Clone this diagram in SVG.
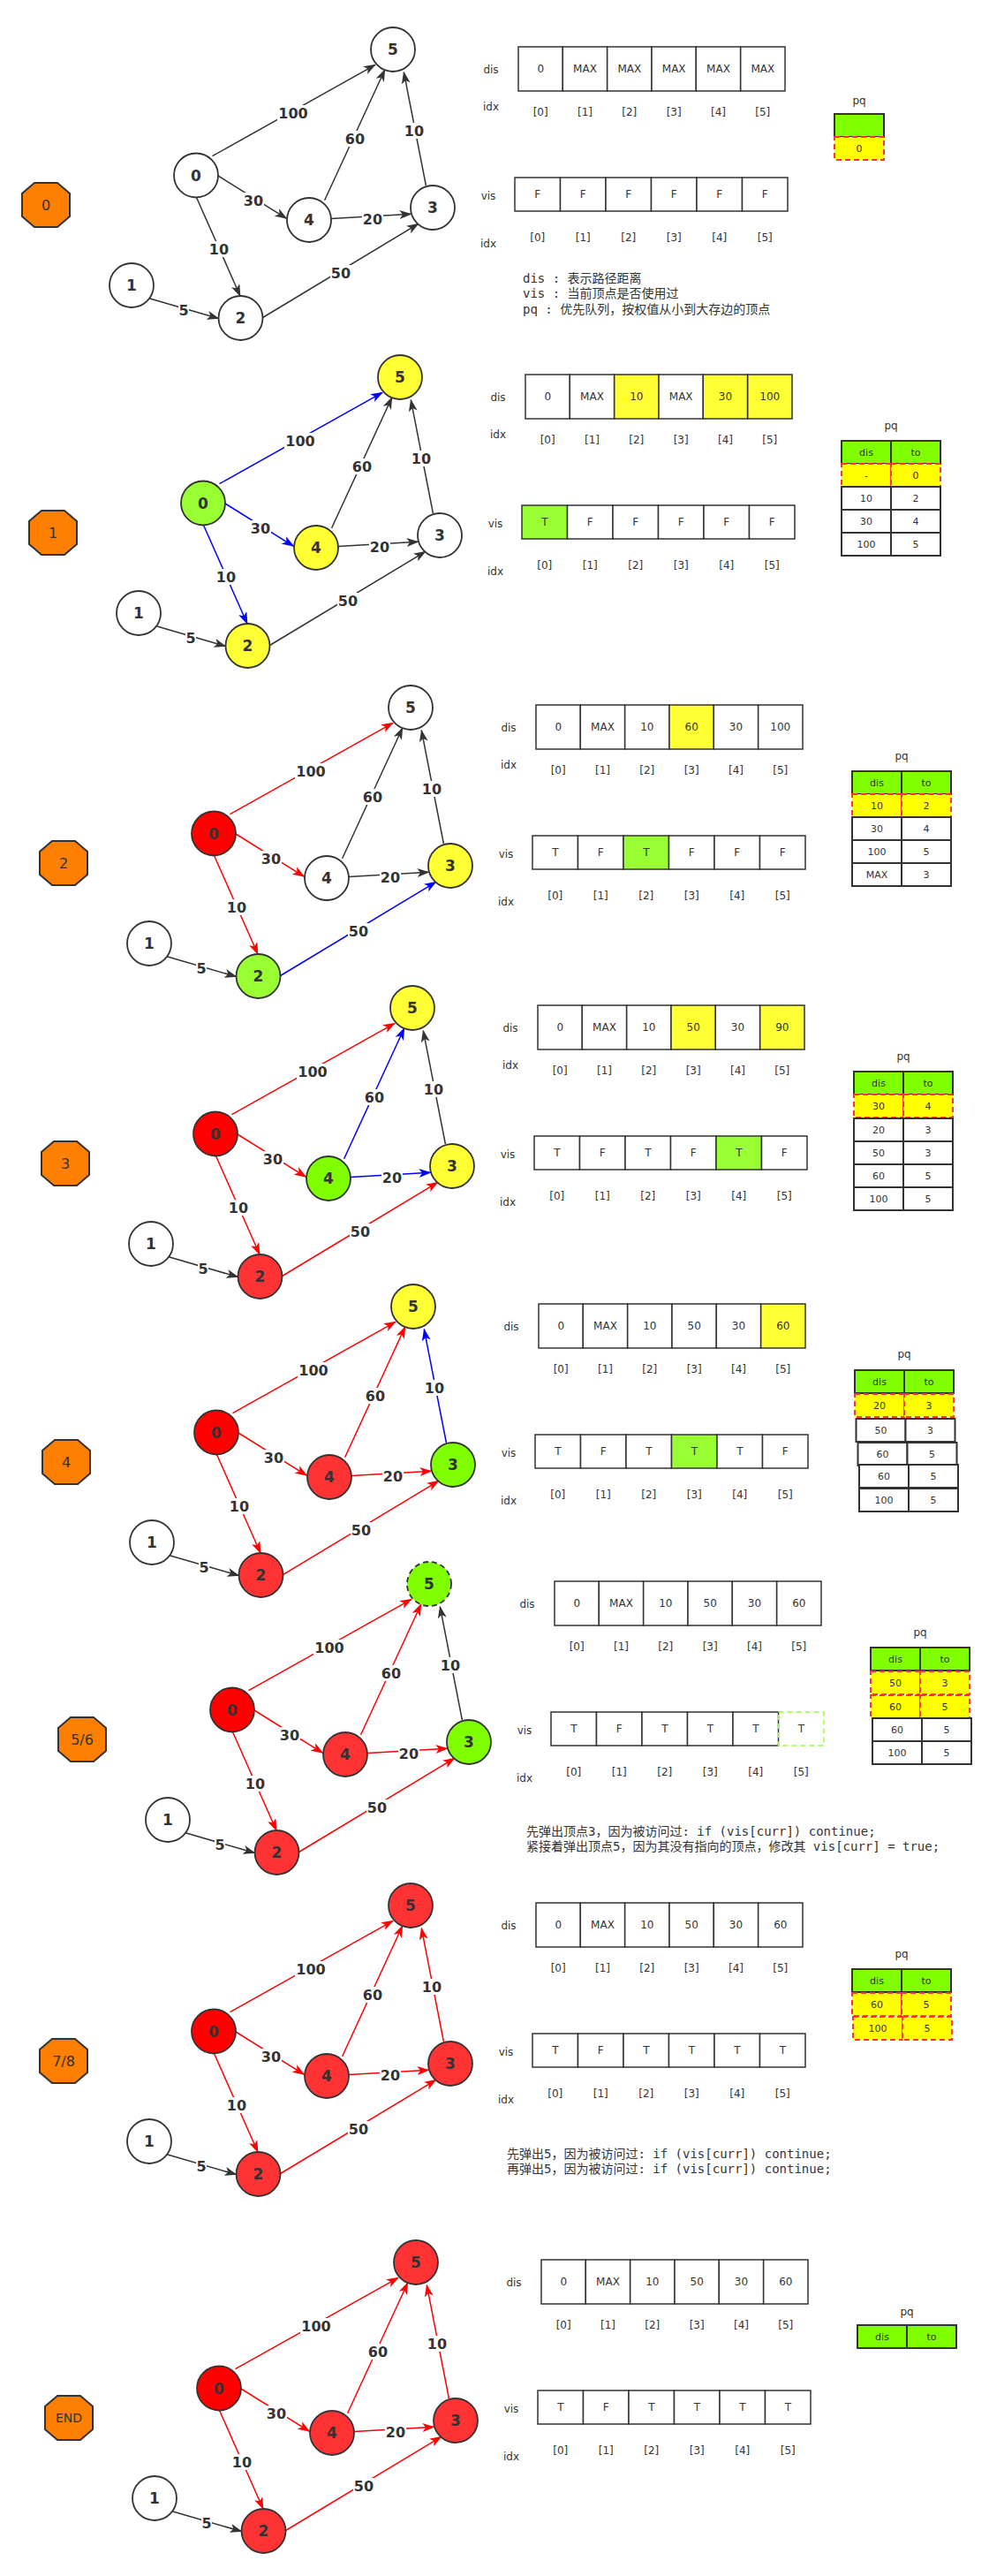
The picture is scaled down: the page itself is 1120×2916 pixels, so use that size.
<svg xmlns="http://www.w3.org/2000/svg" width="1120" height="2916" viewBox="0 0 1120 2916">
<defs>
<marker id="ak" viewBox="0 0 14 10" refX="13" refY="5" markerWidth="14" markerHeight="10" markerUnits="userSpaceOnUse" orient="auto"><path d="M0,0 L14,5 L0,10 L3.5,5 Z" fill="#333"/></marker>
<marker id="ar" viewBox="0 0 14 10" refX="13" refY="5" markerWidth="14" markerHeight="10" markerUnits="userSpaceOnUse" orient="auto"><path d="M0,0 L14,5 L0,10 L3.5,5 Z" fill="#FF0000"/></marker>
<marker id="ab" viewBox="0 0 14 10" refX="13" refY="5" markerWidth="14" markerHeight="10" markerUnits="userSpaceOnUse" orient="auto"><path d="M0,0 L14,5 L0,10 L3.5,5 Z" fill="#0000FF"/></marker>
<style>
.oct{fill:#FF8000;stroke:#333;stroke-width:2}
.ot{font-family:"DejaVu Sans",sans-serif;font-size:16px;fill:#333;text-anchor:middle;dominant-baseline:central}
.n{stroke:#333;stroke-width:1.8}
.fw{fill:#fff}.fy{fill:#FFFF33}.fg{fill:#99FF33}.fG{fill:#80FF00}.fR{fill:#FF0000}.fr{fill:#FF3333}
.dash{stroke-dasharray:6 4}
.nt{font-family:"DejaVu Sans",sans-serif;font-weight:bold;font-size:17px;fill:#333;text-anchor:middle;dominant-baseline:central}
.ek,.er,.eb{fill:none;stroke-width:1.5}
.ek{stroke:#333;marker-end:url(#ak)}
.er{stroke:#FF0000;marker-end:url(#ar)}
.eb{stroke:#0000FF;marker-end:url(#ab)}
.lb{fill:#fff}
.el{font-family:"DejaVu Sans",sans-serif;font-weight:bold;font-size:16px;fill:#333;text-anchor:middle;dominant-baseline:central}
.c{fill:#fff;stroke:#333;stroke-width:1.5}
.cy{fill:#FFFF33;stroke:#333;stroke-width:1.5}
.cg{fill:#99FF33;stroke:#333;stroke-width:1.5}
.cd{fill:none;stroke:#99FF33;stroke-width:1.5;stroke-dasharray:6 4}
.ct{font-family:"DejaVu Sans",sans-serif;font-size:12px;fill:#333;text-anchor:middle;dominant-baseline:central}
.lab{font-family:"DejaVu Sans",sans-serif;font-size:12px;fill:#333;text-anchor:middle;dominant-baseline:central}
.ph{fill:#80FF00;stroke:#333;stroke-width:2}
.pw{fill:#fff;stroke:#333;stroke-width:2}
.py{fill:#FFFF00;stroke:#FF3333;stroke-width:2;stroke-dasharray:6 4}
.pt{font-family:"DejaVu Sans",sans-serif;font-size:11px;fill:#333;text-anchor:middle;dominant-baseline:central}
.note{font-family:"DejaVu Sans Mono","Noto Sans CJK SC",monospace;font-size:14px;fill:#333;white-space:pre}
</style>
</defs>
<rect width="1120" height="2916" fill="#fff"/>

<!-- ===== STAGE 0 ===== -->
<g id="s0" transform="translate(0,0)">
<g id="s0-oct"><polygon class="oct" points="39,207 65,207 79,219 79,245 65,257 39,257 25,245 25,219"/><text class="ot" x="52" y="232">0</text></g>
<g id="s0-edges">
<path class="ek" d="M240.5,176.7L425,73.3"/>
<path class="ek" d="M367.6,226.7L435.8,79"/>
<path class="ek" d="M482.4,210L457.3,81.7"/>
<path class="ek" d="M247,199L324.5,247.3"/>
<path class="ek" d="M375,247.5L465.5,242.3"/>
<path class="ek" d="M222.5,223.5L272,335"/>
<path class="ek" d="M296.7,360L473.8,253.3"/>
<path class="ek" d="M167.3,337.3L247.5,360.5"/>
<rect class="lb" x="314" y="119" width="36" height="18"/><text class="el" x="332" y="128">100</text>
<rect class="lb" x="390" y="148" width="24" height="18"/><text class="el" x="402" y="157">60</text>
<rect class="lb" x="457" y="139" width="24" height="18"/><text class="el" x="469" y="148">10</text>
<rect class="lb" x="275" y="218" width="24" height="18"/><text class="el" x="287" y="227">30</text>
<rect class="lb" x="410" y="239" width="24" height="18"/><text class="el" x="422" y="248">20</text>
<rect class="lb" x="236" y="273" width="24" height="18"/><text class="el" x="248" y="282">10</text>
<rect class="lb" x="374" y="300" width="24" height="18"/><text class="el" x="386" y="309">50</text>
<rect class="lb" x="202" y="342" width="12" height="18"/><text class="el" x="208" y="351">5</text>
</g>
<g id="s0-n0"><circle class="n fw" cx="222" cy="198.5" r="25"/><text class="nt" x="222" y="198.5">0</text></g>
<g id="s0-n1"><circle class="n fw" cx="149" cy="323" r="25"/><text class="nt" x="149" y="323">1</text></g>
<g id="s0-n2"><circle class="n fw" cx="272.5" cy="360" r="25"/><text class="nt" x="272.5" y="360">2</text></g>
<g id="s0-n3"><circle class="n fw" cx="490" cy="235" r="25"/><text class="nt" x="490" y="235">3</text></g>
<g id="s0-n4"><circle class="n fw" cx="350" cy="249" r="25"/><text class="nt" x="350" y="249">4</text></g>
<g id="s0-n5"><circle class="n fw" cx="445" cy="56" r="25"/><text class="nt" x="445" y="56">5</text></g>
<g id="s0-dis">
<text class="lab" x="556" y="79">dis</text><text class="lab" x="556" y="121">idx</text>
<rect class="c" x="587" y="53" width="50.3" height="50"/><rect class="c" x="637.3" y="53" width="50.3" height="50"/><rect class="c" x="687.7" y="53" width="50.3" height="50"/><rect class="c" x="738" y="53" width="50.3" height="50"/><rect class="c" x="788.3" y="53" width="50.3" height="50"/><rect class="c" x="838.7" y="53" width="50.3" height="50"/>
<text class="ct" x="612.2" y="78">0</text><text class="ct" x="662.5" y="78">MAX</text><text class="ct" x="712.8" y="78">MAX</text><text class="ct" x="763.2" y="78">MAX</text><text class="ct" x="813.5" y="78">MAX</text><text class="ct" x="863.8" y="78">MAX</text>
<text class="ct" x="612.2" y="127">[0]</text><text class="ct" x="662.5" y="127">[1]</text><text class="ct" x="712.8" y="127">[2]</text><text class="ct" x="763.2" y="127">[3]</text><text class="ct" x="813.5" y="127">[4]</text><text class="ct" x="863.8" y="127">[5]</text>
</g>
<g id="s0-vis">
<text class="lab" x="553" y="222">vis</text><text class="lab" x="553" y="276">idx</text>
<rect class="c" x="583" y="201" width="51.5" height="38"/><rect class="c" x="634.5" y="201" width="51.5" height="38"/><rect class="c" x="686" y="201" width="51.5" height="38"/><rect class="c" x="737.5" y="201" width="51.5" height="38"/><rect class="c" x="789" y="201" width="51.5" height="38"/><rect class="c" x="840.5" y="201" width="51.5" height="38"/>
<text class="ct" x="608.8" y="220">F</text><text class="ct" x="660.3" y="220">F</text><text class="ct" x="711.8" y="220">F</text><text class="ct" x="763.3" y="220">F</text><text class="ct" x="814.8" y="220">F</text><text class="ct" x="866.3" y="220">F</text>
<text class="ct" x="608.8" y="269">[0]</text><text class="ct" x="660.3" y="269">[1]</text><text class="ct" x="711.8" y="269">[2]</text><text class="ct" x="763.3" y="269">[3]</text><text class="ct" x="814.8" y="269">[4]</text><text class="ct" x="866.3" y="269">[5]</text>
</g>
<g id="s0-pq">
<text class="lab" x="973" y="114">pq</text>
<rect class="ph" x="945" y="129" width="56" height="26"/>
<rect class="py" x="945" y="155" width="56" height="26"/><text class="pt" x="973" y="168">0</text>
</g>
<g id="s0-legend" class="note">
<text x="592" y="320">dis : 表示路径距离</text>
<text x="592" y="337">vis : 当前顶点是否使用过</text>
<text x="592" y="355">pq  : 优先队列，按权值从小到大存边的顶点</text>
</g>
</g>

<!-- ===== STAGE 1 ===== -->
<g id="s1" transform="translate(8,371)">
<g id="s1-oct"><polygon class="oct" points="39,207 65,207 79,219 79,245 65,257 39,257 25,245 25,219"/><text class="ot" x="52" y="232">1</text></g>
<g id="s1-edges">
<path class="eb" d="M240.5,176.7L425,73.3"/>
<path class="ek" d="M367.6,226.7L435.8,79"/>
<path class="ek" d="M482.4,210L457.3,81.7"/>
<path class="eb" d="M247,199L324.5,247.3"/>
<path class="ek" d="M375,247.5L465.5,242.3"/>
<path class="eb" d="M222.5,223.5L272,335"/>
<path class="ek" d="M296.7,360L473.8,253.3"/>
<path class="ek" d="M167.3,337.3L247.5,360.5"/>
<rect class="lb" x="314" y="119" width="36" height="18"/><text class="el" x="332" y="128">100</text>
<rect class="lb" x="390" y="148" width="24" height="18"/><text class="el" x="402" y="157">60</text>
<rect class="lb" x="457" y="139" width="24" height="18"/><text class="el" x="469" y="148">10</text>
<rect class="lb" x="275" y="218" width="24" height="18"/><text class="el" x="287" y="227">30</text>
<rect class="lb" x="410" y="239" width="24" height="18"/><text class="el" x="422" y="248">20</text>
<rect class="lb" x="236" y="273" width="24" height="18"/><text class="el" x="248" y="282">10</text>
<rect class="lb" x="374" y="300" width="24" height="18"/><text class="el" x="386" y="309">50</text>
<rect class="lb" x="202" y="342" width="12" height="18"/><text class="el" x="208" y="351">5</text>
</g>
<g id="s1-n0"><circle class="n fg" cx="222" cy="198.5" r="25"/><text class="nt" x="222" y="198.5">0</text></g>
<g id="s1-n1"><circle class="n fw" cx="149" cy="323" r="25"/><text class="nt" x="149" y="323">1</text></g>
<g id="s1-n2"><circle class="n fy" cx="272.5" cy="360" r="25"/><text class="nt" x="272.5" y="360">2</text></g>
<g id="s1-n3"><circle class="n fw" cx="490" cy="235" r="25"/><text class="nt" x="490" y="235">3</text></g>
<g id="s1-n4"><circle class="n fy" cx="350" cy="249" r="25"/><text class="nt" x="350" y="249">4</text></g>
<g id="s1-n5"><circle class="n fy" cx="445" cy="56" r="25"/><text class="nt" x="445" y="56">5</text></g>
<g id="s1-dis">
<text class="lab" x="556" y="79">dis</text><text class="lab" x="556" y="121">idx</text>
<rect class="c" x="587" y="53" width="50.3" height="50"/><rect class="c" x="637.3" y="53" width="50.3" height="50"/><rect class="cy" x="687.7" y="53" width="50.3" height="50"/><rect class="c" x="738" y="53" width="50.3" height="50"/><rect class="cy" x="788.3" y="53" width="50.3" height="50"/><rect class="cy" x="838.7" y="53" width="50.3" height="50"/>
<text class="ct" x="612.2" y="78">0</text><text class="ct" x="662.5" y="78">MAX</text><text class="ct" x="712.8" y="78">10</text><text class="ct" x="763.2" y="78">MAX</text><text class="ct" x="813.5" y="78">30</text><text class="ct" x="863.8" y="78">100</text>
<text class="ct" x="612.2" y="127">[0]</text><text class="ct" x="662.5" y="127">[1]</text><text class="ct" x="712.8" y="127">[2]</text><text class="ct" x="763.2" y="127">[3]</text><text class="ct" x="813.5" y="127">[4]</text><text class="ct" x="863.8" y="127">[5]</text>
</g>
<g id="s1-vis">
<text class="lab" x="553" y="222">vis</text><text class="lab" x="553" y="276">idx</text>
<rect class="cg" x="583" y="201" width="51.5" height="38"/><rect class="c" x="634.5" y="201" width="51.5" height="38"/><rect class="c" x="686" y="201" width="51.5" height="38"/><rect class="c" x="737.5" y="201" width="51.5" height="38"/><rect class="c" x="789" y="201" width="51.5" height="38"/><rect class="c" x="840.5" y="201" width="51.5" height="38"/>
<text class="ct" x="608.8" y="220">T</text><text class="ct" x="660.3" y="220">F</text><text class="ct" x="711.8" y="220">F</text><text class="ct" x="763.3" y="220">F</text><text class="ct" x="814.8" y="220">F</text><text class="ct" x="866.3" y="220">F</text>
<text class="ct" x="608.8" y="269">[0]</text><text class="ct" x="660.3" y="269">[1]</text><text class="ct" x="711.8" y="269">[2]</text><text class="ct" x="763.3" y="269">[3]</text><text class="ct" x="814.8" y="269">[4]</text><text class="ct" x="866.3" y="269">[5]</text>
</g>
<g id="s1-pq">
<text class="lab" x="1001" y="111">pq</text>
<rect class="ph" x="945" y="128" width="56" height="26"/><rect class="ph" x="1001" y="128" width="56" height="26"/><text class="pt" x="973" y="141">dis</text><text class="pt" x="1029" y="141">to</text>
<rect class="py" x="945" y="154" width="56" height="26"/><rect class="py" x="1001" y="154" width="56" height="26"/><text class="pt" x="973" y="167">-</text><text class="pt" x="1029" y="167">0</text>
<rect class="pw" x="945" y="180" width="56" height="26"/><rect class="pw" x="1001" y="180" width="56" height="26"/><text class="pt" x="973" y="193">10</text><text class="pt" x="1029" y="193">2</text>
<rect class="pw" x="945" y="206" width="56" height="26"/><rect class="pw" x="1001" y="206" width="56" height="26"/><text class="pt" x="973" y="219">30</text><text class="pt" x="1029" y="219">4</text>
<rect class="pw" x="945" y="232" width="56" height="26"/><rect class="pw" x="1001" y="232" width="56" height="26"/><text class="pt" x="973" y="245">100</text><text class="pt" x="1029" y="245">5</text>
</g>
</g>

<!-- ===== STAGE 2 ===== -->
<g id="s2" transform="translate(20,745)">
<g id="s2-oct"><polygon class="oct" points="39,207 65,207 79,219 79,245 65,257 39,257 25,245 25,219"/><text class="ot" x="52" y="232">2</text></g>
<g id="s2-edges">
<path class="er" d="M240.5,176.7L425,73.3"/>
<path class="ek" d="M367.6,226.7L435.8,79"/>
<path class="ek" d="M482.4,210L457.3,81.7"/>
<path class="er" d="M247,199L324.5,247.3"/>
<path class="ek" d="M375,247.5L465.5,242.3"/>
<path class="er" d="M222.5,223.5L272,335"/>
<path class="eb" d="M296.7,360L473.8,253.3"/>
<path class="ek" d="M167.3,337.3L247.5,360.5"/>
<rect class="lb" x="314" y="119" width="36" height="18"/><text class="el" x="332" y="128">100</text>
<rect class="lb" x="390" y="148" width="24" height="18"/><text class="el" x="402" y="157">60</text>
<rect class="lb" x="457" y="139" width="24" height="18"/><text class="el" x="469" y="148">10</text>
<rect class="lb" x="275" y="218" width="24" height="18"/><text class="el" x="287" y="227">30</text>
<rect class="lb" x="410" y="239" width="24" height="18"/><text class="el" x="422" y="248">20</text>
<rect class="lb" x="236" y="273" width="24" height="18"/><text class="el" x="248" y="282">10</text>
<rect class="lb" x="374" y="300" width="24" height="18"/><text class="el" x="386" y="309">50</text>
<rect class="lb" x="202" y="342" width="12" height="18"/><text class="el" x="208" y="351">5</text>
</g>
<g id="s2-n0"><circle class="n fR" cx="222" cy="198.5" r="25"/><text class="nt" x="222" y="198.5">0</text></g>
<g id="s2-n1"><circle class="n fw" cx="149" cy="323" r="25"/><text class="nt" x="149" y="323">1</text></g>
<g id="s2-n2"><circle class="n fg" cx="272.5" cy="360" r="25"/><text class="nt" x="272.5" y="360">2</text></g>
<g id="s2-n3"><circle class="n fy" cx="490" cy="235" r="25"/><text class="nt" x="490" y="235">3</text></g>
<g id="s2-n4"><circle class="n fw" cx="350" cy="249" r="25"/><text class="nt" x="350" y="249">4</text></g>
<g id="s2-n5"><circle class="n fw" cx="445" cy="56" r="25"/><text class="nt" x="445" y="56">5</text></g>
<g id="s2-dis">
<text class="lab" x="556" y="79">dis</text><text class="lab" x="556" y="121">idx</text>
<rect class="c" x="587" y="53" width="50.3" height="50"/><rect class="c" x="637.3" y="53" width="50.3" height="50"/><rect class="c" x="687.7" y="53" width="50.3" height="50"/><rect class="cy" x="738" y="53" width="50.3" height="50"/><rect class="c" x="788.3" y="53" width="50.3" height="50"/><rect class="c" x="838.7" y="53" width="50.3" height="50"/>
<text class="ct" x="612.2" y="78">0</text><text class="ct" x="662.5" y="78">MAX</text><text class="ct" x="712.8" y="78">10</text><text class="ct" x="763.2" y="78">60</text><text class="ct" x="813.5" y="78">30</text><text class="ct" x="863.8" y="78">100</text>
<text class="ct" x="612.2" y="127">[0]</text><text class="ct" x="662.5" y="127">[1]</text><text class="ct" x="712.8" y="127">[2]</text><text class="ct" x="763.2" y="127">[3]</text><text class="ct" x="813.5" y="127">[4]</text><text class="ct" x="863.8" y="127">[5]</text>
</g>
<g id="s2-vis">
<text class="lab" x="553" y="222">vis</text><text class="lab" x="553" y="276">idx</text>
<rect class="c" x="583" y="201" width="51.5" height="38"/><rect class="c" x="634.5" y="201" width="51.5" height="38"/><rect class="cg" x="686" y="201" width="51.5" height="38"/><rect class="c" x="737.5" y="201" width="51.5" height="38"/><rect class="c" x="789" y="201" width="51.5" height="38"/><rect class="c" x="840.5" y="201" width="51.5" height="38"/>
<text class="ct" x="608.8" y="220">T</text><text class="ct" x="660.3" y="220">F</text><text class="ct" x="711.8" y="220">T</text><text class="ct" x="763.3" y="220">F</text><text class="ct" x="814.8" y="220">F</text><text class="ct" x="866.3" y="220">F</text>
<text class="ct" x="608.8" y="269">[0]</text><text class="ct" x="660.3" y="269">[1]</text><text class="ct" x="711.8" y="269">[2]</text><text class="ct" x="763.3" y="269">[3]</text><text class="ct" x="814.8" y="269">[4]</text><text class="ct" x="866.3" y="269">[5]</text>
</g>
<g id="s2-pq">
<text class="lab" x="1001" y="111">pq</text>
<rect class="ph" x="945" y="128" width="56" height="26"/><rect class="ph" x="1001" y="128" width="56" height="26"/><text class="pt" x="973" y="141">dis</text><text class="pt" x="1029" y="141">to</text>
<rect class="py" x="945" y="154" width="56" height="26"/><rect class="py" x="1001" y="154" width="56" height="26"/><text class="pt" x="973" y="167">10</text><text class="pt" x="1029" y="167">2</text>
<rect class="pw" x="945" y="180" width="56" height="26"/><rect class="pw" x="1001" y="180" width="56" height="26"/><text class="pt" x="973" y="193">30</text><text class="pt" x="1029" y="193">4</text>
<rect class="pw" x="945" y="206" width="56" height="26"/><rect class="pw" x="1001" y="206" width="56" height="26"/><text class="pt" x="973" y="219">100</text><text class="pt" x="1029" y="219">5</text>
<rect class="pw" x="945" y="232" width="56" height="26"/><rect class="pw" x="1001" y="232" width="56" height="26"/><text class="pt" x="973" y="245">MAX</text><text class="pt" x="1029" y="245">3</text>
</g>
</g>

<!-- ===== STAGE 3 ===== -->
<g id="s3" transform="translate(22,1085)">
<g id="s3-oct"><polygon class="oct" points="39,207 65,207 79,219 79,245 65,257 39,257 25,245 25,219"/><text class="ot" x="52" y="232">3</text></g>
<g id="s3-edges">
<path class="er" d="M240.5,176.7L425,73.3"/>
<path class="eb" d="M367.6,226.7L435.8,79"/>
<path class="ek" d="M482.4,210L457.3,81.7"/>
<path class="er" d="M247,199L324.5,247.3"/>
<path class="eb" d="M375,247.5L465.5,242.3"/>
<path class="er" d="M222.5,223.5L272,335"/>
<path class="er" d="M296.7,360L473.8,253.3"/>
<path class="ek" d="M167.3,337.3L247.5,360.5"/>
<rect class="lb" x="314" y="119" width="36" height="18"/><text class="el" x="332" y="128">100</text>
<rect class="lb" x="390" y="148" width="24" height="18"/><text class="el" x="402" y="157">60</text>
<rect class="lb" x="457" y="139" width="24" height="18"/><text class="el" x="469" y="148">10</text>
<rect class="lb" x="275" y="218" width="24" height="18"/><text class="el" x="287" y="227">30</text>
<rect class="lb" x="410" y="239" width="24" height="18"/><text class="el" x="422" y="248">20</text>
<rect class="lb" x="236" y="273" width="24" height="18"/><text class="el" x="248" y="282">10</text>
<rect class="lb" x="374" y="300" width="24" height="18"/><text class="el" x="386" y="309">50</text>
<rect class="lb" x="202" y="342" width="12" height="18"/><text class="el" x="208" y="351">5</text>
</g>
<g id="s3-n0"><circle class="n fR" cx="222" cy="198.5" r="25"/><text class="nt" x="222" y="198.5">0</text></g>
<g id="s3-n1"><circle class="n fw" cx="149" cy="323" r="25"/><text class="nt" x="149" y="323">1</text></g>
<g id="s3-n2"><circle class="n fr" cx="272.5" cy="360" r="25"/><text class="nt" x="272.5" y="360">2</text></g>
<g id="s3-n3"><circle class="n fy" cx="490" cy="235" r="25"/><text class="nt" x="490" y="235">3</text></g>
<g id="s3-n4"><circle class="n fG" cx="350" cy="249" r="25"/><text class="nt" x="350" y="249">4</text></g>
<g id="s3-n5"><circle class="n fy" cx="445" cy="56" r="25"/><text class="nt" x="445" y="56">5</text></g>
<g id="s3-dis">
<text class="lab" x="556" y="79">dis</text><text class="lab" x="556" y="121">idx</text>
<rect class="c" x="587" y="53" width="50.3" height="50"/><rect class="c" x="637.3" y="53" width="50.3" height="50"/><rect class="c" x="687.7" y="53" width="50.3" height="50"/><rect class="cy" x="738" y="53" width="50.3" height="50"/><rect class="c" x="788.3" y="53" width="50.3" height="50"/><rect class="cy" x="838.7" y="53" width="50.3" height="50"/>
<text class="ct" x="612.2" y="78">0</text><text class="ct" x="662.5" y="78">MAX</text><text class="ct" x="712.8" y="78">10</text><text class="ct" x="763.2" y="78">50</text><text class="ct" x="813.5" y="78">30</text><text class="ct" x="863.8" y="78">90</text>
<text class="ct" x="612.2" y="127">[0]</text><text class="ct" x="662.5" y="127">[1]</text><text class="ct" x="712.8" y="127">[2]</text><text class="ct" x="763.2" y="127">[3]</text><text class="ct" x="813.5" y="127">[4]</text><text class="ct" x="863.8" y="127">[5]</text>
</g>
<g id="s3-vis">
<text class="lab" x="553" y="222">vis</text><text class="lab" x="553" y="276">idx</text>
<rect class="c" x="583" y="201" width="51.5" height="38"/><rect class="c" x="634.5" y="201" width="51.5" height="38"/><rect class="c" x="686" y="201" width="51.5" height="38"/><rect class="c" x="737.5" y="201" width="51.5" height="38"/><rect class="cg" x="789" y="201" width="51.5" height="38"/><rect class="c" x="840.5" y="201" width="51.5" height="38"/>
<text class="ct" x="608.8" y="220">T</text><text class="ct" x="660.3" y="220">F</text><text class="ct" x="711.8" y="220">T</text><text class="ct" x="763.3" y="220">F</text><text class="ct" x="814.8" y="220">T</text><text class="ct" x="866.3" y="220">F</text>
<text class="ct" x="608.8" y="269">[0]</text><text class="ct" x="660.3" y="269">[1]</text><text class="ct" x="711.8" y="269">[2]</text><text class="ct" x="763.3" y="269">[3]</text><text class="ct" x="814.8" y="269">[4]</text><text class="ct" x="866.3" y="269">[5]</text>
</g>
<g id="s3-pq">
<text class="lab" x="1001" y="111">pq</text>
<rect class="ph" x="945" y="128" width="56" height="26"/><rect class="ph" x="1001" y="128" width="56" height="26"/><text class="pt" x="973" y="141">dis</text><text class="pt" x="1029" y="141">to</text>
<rect class="py" x="945" y="154" width="56" height="26"/><rect class="py" x="1001" y="154" width="56" height="26"/><text class="pt" x="973" y="167">30</text><text class="pt" x="1029" y="167">4</text>
<rect class="pw" x="945" y="181" width="56" height="26"/><rect class="pw" x="1001" y="181" width="56" height="26"/><text class="pt" x="973" y="194">20</text><text class="pt" x="1029" y="194">3</text>
<rect class="pw" x="945" y="207" width="56" height="26"/><rect class="pw" x="1001" y="207" width="56" height="26"/><text class="pt" x="973" y="220">50</text><text class="pt" x="1029" y="220">3</text>
<rect class="pw" x="945" y="233" width="56" height="26"/><rect class="pw" x="1001" y="233" width="56" height="26"/><text class="pt" x="973" y="246">60</text><text class="pt" x="1029" y="246">5</text>
<rect class="pw" x="945" y="259" width="56" height="26"/><rect class="pw" x="1001" y="259" width="56" height="26"/><text class="pt" x="973" y="272">100</text><text class="pt" x="1029" y="272">5</text>
</g>
</g>

<!-- ===== STAGE 4 ===== -->
<g id="s4" transform="translate(23,1423)">
<g id="s4-oct"><polygon class="oct" points="39,207 65,207 79,219 79,245 65,257 39,257 25,245 25,219"/><text class="ot" x="52" y="232">4</text></g>
<g id="s4-edges">
<path class="er" d="M240.5,176.7L425,73.3"/>
<path class="er" d="M367.6,226.7L435.8,79"/>
<path class="eb" d="M482.4,210L457.3,81.7"/>
<path class="er" d="M247,199L324.5,247.3"/>
<path class="er" d="M375,247.5L465.5,242.3"/>
<path class="er" d="M222.5,223.5L272,335"/>
<path class="er" d="M296.7,360L473.8,253.3"/>
<path class="ek" d="M167.3,337.3L247.5,360.5"/>
<rect class="lb" x="314" y="119" width="36" height="18"/><text class="el" x="332" y="128">100</text>
<rect class="lb" x="390" y="148" width="24" height="18"/><text class="el" x="402" y="157">60</text>
<rect class="lb" x="457" y="139" width="24" height="18"/><text class="el" x="469" y="148">10</text>
<rect class="lb" x="275" y="218" width="24" height="18"/><text class="el" x="287" y="227">30</text>
<rect class="lb" x="410" y="239" width="24" height="18"/><text class="el" x="422" y="248">20</text>
<rect class="lb" x="236" y="273" width="24" height="18"/><text class="el" x="248" y="282">10</text>
<rect class="lb" x="374" y="300" width="24" height="18"/><text class="el" x="386" y="309">50</text>
<rect class="lb" x="202" y="342" width="12" height="18"/><text class="el" x="208" y="351">5</text>
</g>
<g id="s4-n0"><circle class="n fR" cx="222" cy="198.5" r="25"/><text class="nt" x="222" y="198.5">0</text></g>
<g id="s4-n1"><circle class="n fw" cx="149" cy="323" r="25"/><text class="nt" x="149" y="323">1</text></g>
<g id="s4-n2"><circle class="n fr" cx="272.5" cy="360" r="25"/><text class="nt" x="272.5" y="360">2</text></g>
<g id="s4-n3"><circle class="n fG" cx="490" cy="235" r="25"/><text class="nt" x="490" y="235">3</text></g>
<g id="s4-n4"><circle class="n fr" cx="350" cy="249" r="25"/><text class="nt" x="350" y="249">4</text></g>
<g id="s4-n5"><circle class="n fy" cx="445" cy="56" r="25"/><text class="nt" x="445" y="56">5</text></g>
<g id="s4-dis">
<text class="lab" x="556" y="79">dis</text>
<rect class="c" x="587" y="53" width="50.3" height="50"/><rect class="c" x="637.3" y="53" width="50.3" height="50"/><rect class="c" x="687.7" y="53" width="50.3" height="50"/><rect class="c" x="738" y="53" width="50.3" height="50"/><rect class="c" x="788.3" y="53" width="50.3" height="50"/><rect class="cy" x="838.7" y="53" width="50.3" height="50"/>
<text class="ct" x="612.2" y="78">0</text><text class="ct" x="662.5" y="78">MAX</text><text class="ct" x="712.8" y="78">10</text><text class="ct" x="763.2" y="78">50</text><text class="ct" x="813.5" y="78">30</text><text class="ct" x="863.8" y="78">60</text>
<text class="ct" x="612.2" y="127">[0]</text><text class="ct" x="662.5" y="127">[1]</text><text class="ct" x="712.8" y="127">[2]</text><text class="ct" x="763.2" y="127">[3]</text><text class="ct" x="813.5" y="127">[4]</text><text class="ct" x="863.8" y="127">[5]</text>
</g>
<g id="s4-vis">
<text class="lab" x="553" y="222">vis</text><text class="lab" x="553" y="276">idx</text>
<rect class="c" x="583" y="201" width="51.5" height="38"/><rect class="c" x="634.5" y="201" width="51.5" height="38"/><rect class="c" x="686" y="201" width="51.5" height="38"/><rect class="cg" x="737.5" y="201" width="51.5" height="38"/><rect class="c" x="789" y="201" width="51.5" height="38"/><rect class="c" x="840.5" y="201" width="51.5" height="38"/>
<text class="ct" x="608.8" y="220">T</text><text class="ct" x="660.3" y="220">F</text><text class="ct" x="711.8" y="220">T</text><text class="ct" x="763.3" y="220">T</text><text class="ct" x="814.8" y="220">T</text><text class="ct" x="866.3" y="220">F</text>
<text class="ct" x="608.8" y="269">[0]</text><text class="ct" x="660.3" y="269">[1]</text><text class="ct" x="711.8" y="269">[2]</text><text class="ct" x="763.3" y="269">[3]</text><text class="ct" x="814.8" y="269">[4]</text><text class="ct" x="866.3" y="269">[5]</text>
</g>
<g id="s4-pq">
<text class="lab" x="1001" y="110">pq</text>
<rect class="ph" x="945" y="128" width="56" height="26"/><rect class="ph" x="1001" y="128" width="56" height="26"/><text class="pt" x="973" y="141">dis</text><text class="pt" x="1029" y="141">to</text>
<rect class="py" x="945" y="155" width="56" height="26"/><rect class="py" x="1001" y="155" width="56" height="26"/><text class="pt" x="973" y="168">20</text><text class="pt" x="1029" y="168">3</text>
<rect class="pw" x="946.5" y="183" width="56" height="26"/><rect class="pw" x="1002.5" y="183" width="56" height="26"/><text class="pt" x="974.5" y="196">50</text><text class="pt" x="1030.5" y="196">3</text>
<rect class="pw" x="948.5" y="210" width="56" height="26"/><rect class="pw" x="1004.5" y="210" width="56" height="26"/><text class="pt" x="976.5" y="223">60</text><text class="pt" x="1032.5" y="223">5</text>
<rect class="pw" x="950" y="235" width="56" height="26"/><rect class="pw" x="1006" y="235" width="56" height="26"/><text class="pt" x="978" y="248">60</text><text class="pt" x="1034" y="248">5</text>
<rect class="pw" x="950" y="262" width="56" height="26"/><rect class="pw" x="1006" y="262" width="56" height="26"/><text class="pt" x="978" y="275">100</text><text class="pt" x="1034" y="275">5</text>
</g>
</g>

<!-- ===== STAGE 5/6 ===== -->
<g id="s5" transform="translate(41,1737)">
<g id="s5-oct"><polygon class="oct" points="39,207 65,207 79,219 79,245 65,257 39,257 25,245 25,219"/><text class="ot" x="52" y="232">5/6</text></g>
<g id="s5-edges">
<path class="er" d="M240.5,176.7L425,73.3"/>
<path class="er" d="M367.6,226.7L435.8,79"/>
<path class="ek" d="M482.4,210L457.3,81.7"/>
<path class="er" d="M247,199L324.5,247.3"/>
<path class="er" d="M375,247.5L465.5,242.3"/>
<path class="er" d="M222.5,223.5L272,335"/>
<path class="er" d="M296.7,360L473.8,253.3"/>
<path class="ek" d="M167.3,337.3L247.5,360.5"/>
<rect class="lb" x="314" y="119" width="36" height="18"/><text class="el" x="332" y="128">100</text>
<rect class="lb" x="390" y="148" width="24" height="18"/><text class="el" x="402" y="157">60</text>
<rect class="lb" x="457" y="139" width="24" height="18"/><text class="el" x="469" y="148">10</text>
<rect class="lb" x="275" y="218" width="24" height="18"/><text class="el" x="287" y="227">30</text>
<rect class="lb" x="410" y="239" width="24" height="18"/><text class="el" x="422" y="248">20</text>
<rect class="lb" x="236" y="273" width="24" height="18"/><text class="el" x="248" y="282">10</text>
<rect class="lb" x="374" y="300" width="24" height="18"/><text class="el" x="386" y="309">50</text>
<rect class="lb" x="202" y="342" width="12" height="18"/><text class="el" x="208" y="351">5</text>
</g>
<g id="s5-n0"><circle class="n fR" cx="222" cy="198.5" r="25"/><text class="nt" x="222" y="198.5">0</text></g>
<g id="s5-n1"><circle class="n fw" cx="149" cy="323" r="25"/><text class="nt" x="149" y="323">1</text></g>
<g id="s5-n2"><circle class="n fr" cx="272.5" cy="360" r="25"/><text class="nt" x="272.5" y="360">2</text></g>
<g id="s5-n3"><circle class="n fG" cx="490" cy="235" r="25"/><text class="nt" x="490" y="235">3</text></g>
<g id="s5-n4"><circle class="n fr" cx="350" cy="249" r="25"/><text class="nt" x="350" y="249">4</text></g>
<g id="s5-n5"><circle class="n fG dash" cx="445" cy="56" r="25"/><text class="nt" x="445" y="56">5</text></g>
<g id="s5-dis">
<text class="lab" x="556" y="79">dis</text>
<rect class="c" x="587" y="53" width="50.3" height="50"/><rect class="c" x="637.3" y="53" width="50.3" height="50"/><rect class="c" x="687.7" y="53" width="50.3" height="50"/><rect class="c" x="738" y="53" width="50.3" height="50"/><rect class="c" x="788.3" y="53" width="50.3" height="50"/><rect class="c" x="838.7" y="53" width="50.3" height="50"/>
<text class="ct" x="612.2" y="78">0</text><text class="ct" x="662.5" y="78">MAX</text><text class="ct" x="712.8" y="78">10</text><text class="ct" x="763.2" y="78">50</text><text class="ct" x="813.5" y="78">30</text><text class="ct" x="863.8" y="78">60</text>
<text class="ct" x="612.2" y="127">[0]</text><text class="ct" x="662.5" y="127">[1]</text><text class="ct" x="712.8" y="127">[2]</text><text class="ct" x="763.2" y="127">[3]</text><text class="ct" x="813.5" y="127">[4]</text><text class="ct" x="863.8" y="127">[5]</text>
</g>
<g id="s5-vis">
<text class="lab" x="553" y="222">vis</text><text class="lab" x="553" y="276">idx</text>
<rect class="c" x="583" y="201" width="51.5" height="38"/><rect class="c" x="634.5" y="201" width="51.5" height="38"/><rect class="c" x="686" y="201" width="51.5" height="38"/><rect class="c" x="737.5" y="201" width="51.5" height="38"/><rect class="c" x="789" y="201" width="51.5" height="38"/><rect class="cd" x="840.5" y="201" width="51.5" height="38"/>
<text class="ct" x="608.8" y="220">T</text><text class="ct" x="660.3" y="220">F</text><text class="ct" x="711.8" y="220">T</text><text class="ct" x="763.3" y="220">T</text><text class="ct" x="814.8" y="220">T</text><text class="ct" x="866.3" y="220">T</text>
<text class="ct" x="608.8" y="269">[0]</text><text class="ct" x="660.3" y="269">[1]</text><text class="ct" x="711.8" y="269">[2]</text><text class="ct" x="763.3" y="269">[3]</text><text class="ct" x="814.8" y="269">[4]</text><text class="ct" x="866.3" y="269">[5]</text>
</g>
<g id="s5-pq">
<text class="lab" x="1001" y="111">pq</text>
<rect class="ph" x="945" y="128" width="56" height="26"/><rect class="ph" x="1001" y="128" width="56" height="26"/><text class="pt" x="973" y="141">dis</text><text class="pt" x="1029" y="141">to</text>
<rect class="py" x="945" y="155" width="56" height="26"/><rect class="py" x="1001" y="155" width="56" height="26"/><text class="pt" x="973" y="168">50</text><text class="pt" x="1029" y="168">3</text>
<rect class="py" x="945" y="182" width="56" height="26"/><rect class="py" x="1001" y="182" width="56" height="26"/><text class="pt" x="973" y="195">60</text><text class="pt" x="1029" y="195">5</text>
<rect class="pw" x="947" y="208" width="56" height="26"/><rect class="pw" x="1003" y="208" width="56" height="26"/><text class="pt" x="975" y="221">60</text><text class="pt" x="1031" y="221">5</text>
<rect class="pw" x="947" y="234" width="56" height="26"/><rect class="pw" x="1003" y="234" width="56" height="26"/><text class="pt" x="975" y="247">100</text><text class="pt" x="1031" y="247">5</text>
</g>
<g id="s5-note" class="note">
<text x="555" y="341">先弹出顶点3，因为被访问过:  if (vis[curr]) continue;</text>
<text x="555" y="358">紧接着弹出顶点5，因为其没有指向的顶点，修改其  vis[curr] = true;</text>
</g>
</g>

<!-- ===== STAGE 7/8 ===== -->
<g id="s7" transform="translate(20,2101)">
<g id="s7-oct"><polygon class="oct" points="39,207 65,207 79,219 79,245 65,257 39,257 25,245 25,219"/><text class="ot" x="52" y="232">7/8</text></g>
<g id="s7-edges">
<path class="er" d="M240.5,176.7L425,73.3"/>
<path class="er" d="M367.6,226.7L435.8,79"/>
<path class="er" d="M482.4,210L457.3,81.7"/>
<path class="er" d="M247,199L324.5,247.3"/>
<path class="er" d="M375,247.5L465.5,242.3"/>
<path class="er" d="M222.5,223.5L272,335"/>
<path class="er" d="M296.7,360L473.8,253.3"/>
<path class="ek" d="M167.3,337.3L247.5,360.5"/>
<rect class="lb" x="314" y="119" width="36" height="18"/><text class="el" x="332" y="128">100</text>
<rect class="lb" x="390" y="148" width="24" height="18"/><text class="el" x="402" y="157">60</text>
<rect class="lb" x="457" y="139" width="24" height="18"/><text class="el" x="469" y="148">10</text>
<rect class="lb" x="275" y="218" width="24" height="18"/><text class="el" x="287" y="227">30</text>
<rect class="lb" x="410" y="239" width="24" height="18"/><text class="el" x="422" y="248">20</text>
<rect class="lb" x="236" y="273" width="24" height="18"/><text class="el" x="248" y="282">10</text>
<rect class="lb" x="374" y="300" width="24" height="18"/><text class="el" x="386" y="309">50</text>
<rect class="lb" x="202" y="342" width="12" height="18"/><text class="el" x="208" y="351">5</text>
</g>
<g id="s7-n0"><circle class="n fR" cx="222" cy="198.5" r="25"/><text class="nt" x="222" y="198.5">0</text></g>
<g id="s7-n1"><circle class="n fw" cx="149" cy="323" r="25"/><text class="nt" x="149" y="323">1</text></g>
<g id="s7-n2"><circle class="n fr" cx="272.5" cy="360" r="25"/><text class="nt" x="272.5" y="360">2</text></g>
<g id="s7-n3"><circle class="n fr" cx="490" cy="235" r="25"/><text class="nt" x="490" y="235">3</text></g>
<g id="s7-n4"><circle class="n fr" cx="350" cy="249" r="25"/><text class="nt" x="350" y="249">4</text></g>
<g id="s7-n5"><circle class="n fr" cx="445" cy="56" r="25"/><text class="nt" x="445" y="56">5</text></g>
<g id="s7-dis">
<text class="lab" x="556" y="79">dis</text>
<rect class="c" x="587" y="53" width="50.3" height="50"/><rect class="c" x="637.3" y="53" width="50.3" height="50"/><rect class="c" x="687.7" y="53" width="50.3" height="50"/><rect class="c" x="738" y="53" width="50.3" height="50"/><rect class="c" x="788.3" y="53" width="50.3" height="50"/><rect class="c" x="838.7" y="53" width="50.3" height="50"/>
<text class="ct" x="612.2" y="78">0</text><text class="ct" x="662.5" y="78">MAX</text><text class="ct" x="712.8" y="78">10</text><text class="ct" x="763.2" y="78">50</text><text class="ct" x="813.5" y="78">30</text><text class="ct" x="863.8" y="78">60</text>
<text class="ct" x="612.2" y="127">[0]</text><text class="ct" x="662.5" y="127">[1]</text><text class="ct" x="712.8" y="127">[2]</text><text class="ct" x="763.2" y="127">[3]</text><text class="ct" x="813.5" y="127">[4]</text><text class="ct" x="863.8" y="127">[5]</text>
</g>
<g id="s7-vis">
<text class="lab" x="553" y="222">vis</text><text class="lab" x="553" y="276">idx</text>
<rect class="c" x="583" y="201" width="51.5" height="38"/><rect class="c" x="634.5" y="201" width="51.5" height="38"/><rect class="c" x="686" y="201" width="51.5" height="38"/><rect class="c" x="737.5" y="201" width="51.5" height="38"/><rect class="c" x="789" y="201" width="51.5" height="38"/><rect class="c" x="840.5" y="201" width="51.5" height="38"/>
<text class="ct" x="608.8" y="220">T</text><text class="ct" x="660.3" y="220">F</text><text class="ct" x="711.8" y="220">T</text><text class="ct" x="763.3" y="220">T</text><text class="ct" x="814.8" y="220">T</text><text class="ct" x="866.3" y="220">T</text>
<text class="ct" x="608.8" y="269">[0]</text><text class="ct" x="660.3" y="269">[1]</text><text class="ct" x="711.8" y="269">[2]</text><text class="ct" x="763.3" y="269">[3]</text><text class="ct" x="814.8" y="269">[4]</text><text class="ct" x="866.3" y="269">[5]</text>
</g>
<g id="s7-pq">
<text class="lab" x="1001" y="111">pq</text>
<rect class="ph" x="945" y="128" width="56" height="26"/><rect class="ph" x="1001" y="128" width="56" height="26"/><text class="pt" x="973" y="141">dis</text><text class="pt" x="1029" y="141">to</text>
<rect class="py" x="945" y="155" width="56" height="26"/><rect class="py" x="1001" y="155" width="56" height="26"/><text class="pt" x="973" y="168">60</text><text class="pt" x="1029" y="168">5</text>
<rect class="py" x="946" y="182" width="56" height="26"/><rect class="py" x="1002" y="182" width="56" height="26"/><text class="pt" x="974" y="195">100</text><text class="pt" x="1030" y="195">5</text>
</g>
<g id="s7-note" class="note">
<text x="554" y="342">先弹出5，因为被访问过:  if (vis[curr]) continue;</text>
<text x="554" y="359">再弹出5，因为被访问过:  if (vis[curr]) continue;</text>
</g>
</g>

<!-- ===== STAGE END ===== -->
<g id="sE" transform="translate(26,2505)">
<g id="sE-oct"><polygon class="oct" points="39,207 65,207 79,219 79,245 65,257 39,257 25,245 25,219"/><text class="ot" x="52" y="232" style="font-size:14px">END</text></g>
<g id="sE-edges">
<path class="er" d="M240.5,176.7L425,73.3"/>
<path class="er" d="M367.6,226.7L435.8,79"/>
<path class="er" d="M482.4,210L457.3,81.7"/>
<path class="er" d="M247,199L324.5,247.3"/>
<path class="er" d="M375,247.5L465.5,242.3"/>
<path class="er" d="M222.5,223.5L272,335"/>
<path class="er" d="M296.7,360L473.8,253.3"/>
<path class="ek" d="M167.3,337.3L247.5,360.5"/>
<rect class="lb" x="314" y="119" width="36" height="18"/><text class="el" x="332" y="128">100</text>
<rect class="lb" x="390" y="148" width="24" height="18"/><text class="el" x="402" y="157">60</text>
<rect class="lb" x="457" y="139" width="24" height="18"/><text class="el" x="469" y="148">10</text>
<rect class="lb" x="275" y="218" width="24" height="18"/><text class="el" x="287" y="227">30</text>
<rect class="lb" x="410" y="239" width="24" height="18"/><text class="el" x="422" y="248">20</text>
<rect class="lb" x="236" y="273" width="24" height="18"/><text class="el" x="248" y="282">10</text>
<rect class="lb" x="374" y="300" width="24" height="18"/><text class="el" x="386" y="309">50</text>
<rect class="lb" x="202" y="342" width="12" height="18"/><text class="el" x="208" y="351">5</text>
</g>
<g id="sE-n0"><circle class="n fR" cx="222" cy="198.5" r="25"/><text class="nt" x="222" y="198.5">0</text></g>
<g id="sE-n1"><circle class="n fw" cx="149" cy="323" r="25"/><text class="nt" x="149" y="323">1</text></g>
<g id="sE-n2"><circle class="n fr" cx="272.5" cy="360" r="25"/><text class="nt" x="272.5" y="360">2</text></g>
<g id="sE-n3"><circle class="n fr" cx="490" cy="235" r="25"/><text class="nt" x="490" y="235">3</text></g>
<g id="sE-n4"><circle class="n fr" cx="350" cy="249" r="25"/><text class="nt" x="350" y="249">4</text></g>
<g id="sE-n5"><circle class="n fr" cx="445" cy="56" r="25"/><text class="nt" x="445" y="56">5</text></g>
<g id="sE-dis">
<text class="lab" x="556" y="79">dis</text>
<rect class="c" x="587" y="53" width="50.3" height="50"/><rect class="c" x="637.3" y="53" width="50.3" height="50"/><rect class="c" x="687.7" y="53" width="50.3" height="50"/><rect class="c" x="738" y="53" width="50.3" height="50"/><rect class="c" x="788.3" y="53" width="50.3" height="50"/><rect class="c" x="838.7" y="53" width="50.3" height="50"/>
<text class="ct" x="612.2" y="78">0</text><text class="ct" x="662.5" y="78">MAX</text><text class="ct" x="712.8" y="78">10</text><text class="ct" x="763.2" y="78">50</text><text class="ct" x="813.5" y="78">30</text><text class="ct" x="863.8" y="78">60</text>
<text class="ct" x="612.2" y="127">[0]</text><text class="ct" x="662.5" y="127">[1]</text><text class="ct" x="712.8" y="127">[2]</text><text class="ct" x="763.2" y="127">[3]</text><text class="ct" x="813.5" y="127">[4]</text><text class="ct" x="863.8" y="127">[5]</text>
</g>
<g id="sE-vis">
<text class="lab" x="553" y="222">vis</text><text class="lab" x="553" y="276">idx</text>
<rect class="c" x="583" y="201" width="51.5" height="38"/><rect class="c" x="634.5" y="201" width="51.5" height="38"/><rect class="c" x="686" y="201" width="51.5" height="38"/><rect class="c" x="737.5" y="201" width="51.5" height="38"/><rect class="c" x="789" y="201" width="51.5" height="38"/><rect class="c" x="840.5" y="201" width="51.5" height="38"/>
<text class="ct" x="608.8" y="220">T</text><text class="ct" x="660.3" y="220">F</text><text class="ct" x="711.8" y="220">T</text><text class="ct" x="763.3" y="220">T</text><text class="ct" x="814.8" y="220">T</text><text class="ct" x="866.3" y="220">T</text>
<text class="ct" x="608.8" y="269">[0]</text><text class="ct" x="660.3" y="269">[1]</text><text class="ct" x="711.8" y="269">[2]</text><text class="ct" x="763.3" y="269">[3]</text><text class="ct" x="814.8" y="269">[4]</text><text class="ct" x="866.3" y="269">[5]</text>
</g>
<g id="sE-pq">
<text class="lab" x="1001" y="112">pq</text>
<rect class="ph" x="945" y="127" width="56" height="26"/><rect class="ph" x="1001" y="127" width="56" height="26"/><text class="pt" x="973" y="140">dis</text><text class="pt" x="1029" y="140">to</text>
</g>
</g>
</svg>
